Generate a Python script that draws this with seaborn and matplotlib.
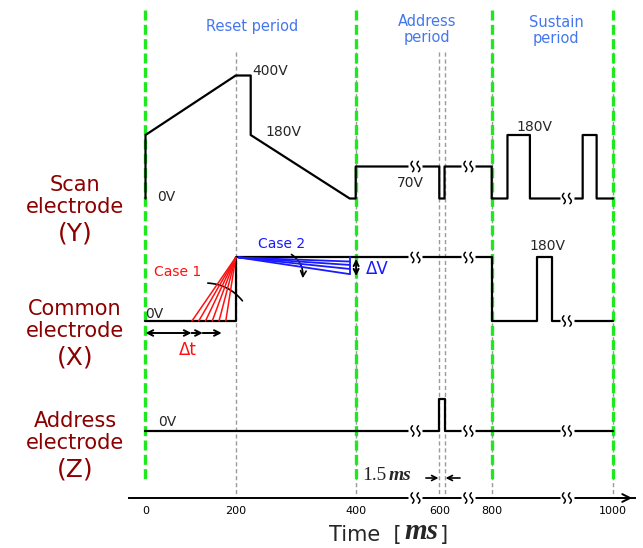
import numpy as np
import matplotlib
matplotlib.use("Agg")
import matplotlib.pyplot as plt
import seaborn as sns

# ---------------- data ----------------
tick_ms = [0, 200, 400, 600, 800, 1000]
tick_labels = ["0", "200", "400", "600", "800", "1000"]

scan_t = [0, 0, 200, 225, 225, 390, 400, 400, 600, 600, 620, 620, 800, 800,
          826, 826, 863, 863, 950, 950, 973, 973, 1000]
scan_v = [0, 180, 400, 400, 180, 0, 0, 70, 70, 0, 0, 70, 70, 0,
          0, 180, 180, 0, 0, 180, 180, 0, 0]
common_t = [0, 200, 200, 800, 800, 875, 875, 899, 899, 1000]
common_v = [0, 0, 180, 180, 0, 0, 180, 180, 0, 0]
addr_t = [0, 600, 600, 620, 620, 1000]
addr_v = [0, 0, 70, 70, 0, 0]

case1_start_ms = [103, 118, 133, 148, 163, 178]
case1_end_ms = 200
case1_v = 180
case2_start_ms = 205
case2_end_ms = 390
case2_end_v = [166, 154, 140, 122]

period_bounds_ms = [0, 400, 800, 1000]
marker_ms = [200, 400, 600, 620, 800, 1000]
breaks_scan_ms = [543, 711, 924]
breaks_common_ms = [543, 711, 924]
breaks_addr_ms = [543, 711, 924]
breaks_axis_ms = [543, 711, 924]
delta_t_marks_ms = [0, 102, 127, 169]

electrode_names = ["Scan", "Common", "Address"]
electrode_codes = ["(Y)", "(X)", "(Z)"]
period_labels = ["Reset period", "Address\nperiod", "Sustain\nperiod"]

# ---------------- schematic layout ----------------
# broken (schematic) time axis: time -> figure pixel
T_anchor = np.array([-2000, 0, 200, 400, 600, 800, 1000, 3000], float)
P_anchor = np.array([-756.5, 145.5, 235.7, 355.7, 439.3, 491.7, 613, 1826], float)
def fwd(t):
    return np.interp(t, T_anchor, P_anchor)
def inv(p):
    return np.interp(p, P_anchor, T_anchor)

# schematic voltage -> drawn height (px)
V_knots = [0, 70, 180, 400]
H_knots = [0, 32, 63.5, 123]
base_scan, base_common, base_addr = 198.5, 321, 431
def yv(base, v):
    return base - np.interp(v, V_knots, H_knots)

sns.set_style("white")
plt.rcParams['font.family'] = ['DejaVu Sans']

fig = plt.figure(figsize=(6.43, 5.48), dpi=100)
ax = fig.add_axes([129 / 643, 50 / 548, 506 / 643, 498 / 548])
ax.set_xscale('function', functions=(fwd, inv))

# gray dotted markers
for t in marker_ms:
    ax.plot([t, t], [52, 498], color='#9a9a9a', lw=1.0, dashes=(3, 2), zorder=1)
# green period boundaries
for t in period_bounds_ms:
    ax.plot([t, t], [10, 480], color='#1ee81e', lw=2.4, dashes=(3.0, 1.3), zorder=2)

# waveforms
sns.lineplot(x=np.array(scan_t, float), y=yv(base_scan, scan_v), sort=False,
             estimator=None, color='black', lw=1.6, ax=ax, zorder=3)
sns.lineplot(x=np.array(common_t, float), y=yv(base_common, common_v), sort=False,
             estimator=None, color='black', lw=1.6, ax=ax, zorder=3)
sns.lineplot(x=np.array(addr_t, float), y=yv(base_addr, addr_v), sort=False,
             estimator=None, color='black', lw=1.6, ax=ax, zorder=3)

# Case 1 (red fan)
for t0 in case1_start_ms:
    ax.plot([t0, case1_end_ms], [yv(base_common, 0), yv(base_common, case1_v)],
            color='#ff1010', lw=1.1, zorder=4)
# Case 2 (blue fan)
for v in case2_end_v:
    ax.plot([case2_start_ms, case2_end_ms], [yv(base_common, 180), yv(base_common, v)],
            color='#1a1aff', lw=1.3, zorder=4)
ax.plot([case2_end_ms, case2_end_ms], [yv(base_common, 180), yv(base_common, min(case2_end_v))],
        color='#1a1aff', lw=1.3, zorder=4)

# break symbols
def draw_break(t, y):
    xc = float(fwd(t))
    ax.plot(inv(np.array([xc - 7, xc + 7])), [y, y], color='white', lw=3.5,
            zorder=7, solid_capstyle='butt', clip_on=False)
    s = np.linspace(-1, 1, 40)
    for dx in (-3.0, 3.0):
        xs = xc + dx + 1.4 * np.sin(np.pi * s)
        ys = y + 5.2 * s
        ax.plot(inv(xs), ys, color='black', lw=1.1, zorder=8, clip_on=False)

for t in breaks_scan_ms:
    yy = yv(base_scan, 70) if t < 800 else yv(base_scan, 0)
    draw_break(t, yy)
for t in breaks_common_ms:
    yy = yv(base_common, 180) if t < 800 else yv(base_common, 0)
    draw_break(t, yy)
for t in breaks_addr_ms:
    draw_break(t, yv(base_addr, 0))
for t in breaks_axis_ms:
    draw_break(t, 498)

# axis styling
ax.set_xlim(inv(129), inv(635))
ax.set_ylim(498, 0)
for side in ['left', 'top', 'right']:
    ax.spines[side].set_visible(False)
ax.spines['bottom'].set_linewidth(1.4)
ax.spines['bottom'].set_color('black')
ax.set_yticks([])
ax.set_xticks(tick_ms)
ax.set_xticklabels(tick_labels, fontsize=8)
ax.tick_params(axis='x', direction='inout', length=6, width=1.1, pad=3, colors='black')
ax.set_xlabel('')
ax.set_ylabel('')
ax.annotate('', xy=(1.0, 0), xycoords='axes fraction', xytext=(0.96, 0),
            arrowprops=dict(arrowstyle='->', color='black', lw=1.4, mutation_scale=14))

# left electrode labels
label_y = [185, 309, 421]
for name, code, y0 in zip(electrode_names, electrode_codes, label_y):
    ax.text(-156, y0, name, ha='center', va='center', fontsize=15, color='#8B0000')
    ax.text(-156, y0 + 22, "electrode", ha='center', va='center', fontsize=15, color='#8B0000')
    ax.text(-156, y0 + 49, code, ha='center', va='center', fontsize=18, color='#8B0000')

# period labels
pcol = '#4477ee'
ax.text(227, 26, period_labels[0], ha='center', va='center', fontsize=10.5, color=pcol)
ax.text(570, 29.5, period_labels[1], ha='center', va='center', fontsize=10.5, color=pcol,
        linespacing=1.1)
ax.text(906, 30.5, period_labels[2], ha='center', va='center', fontsize=10.5, color=pcol,
        linespacing=1.1)

# voltage labels
ax.text(227, 71, "400V", ha='left', va='center', fontsize=10)
ax.text(250, 132, "180V", ha='left', va='center', fontsize=10)
ax.text(25, 197, "0V", ha='left', va='center', fontsize=10)
ax.text(530, 183, "70V", ha='center', va='center', fontsize=10)
ax.text(871, 127, "180V", ha='center', va='center', fontsize=10)
ax.text(0, 314, "0V", ha='left', va='center', fontsize=10)
ax.text(892, 246, "180V", ha='center', va='center', fontsize=10)
ax.text(28, 422, "0V", ha='left', va='center', fontsize=10)

# case labels and arrows
ax.text(72, 272.5, "Case 1", ha='center', va='center', fontsize=10, color='#ff1010')
ax.text(277, 244, "Case 2", ha='center', va='center', fontsize=10, color='#1a1aff')
ax.annotate('', xy=(214, 303), xytext=(132, 283),
            arrowprops=dict(arrowstyle='-', color='black', lw=1.2,
                            connectionstyle='arc3,rad=-0.25'))
ax.annotate('', xy=(311, 281), xytext=(289, 253),
            arrowprops=dict(arrowstyle='->', color='black', lw=1.2,
                            connectionstyle='arc3,rad=-0.35', mutation_scale=10))
# delta V
ax.annotate('', xy=(401, 259), xytext=(401, 276),
            arrowprops=dict(arrowstyle='<->', color='black', lw=1.4, mutation_scale=9,
                            shrinkA=0, shrinkB=0))
ax.text(451, 269, "\u0394V", ha='center', va='center', fontsize=12, color='#1a1aff')
# delta t
ax.annotate('', xy=(delta_t_marks_ms[1], 333), xytext=(delta_t_marks_ms[0], 333),
            arrowprops=dict(arrowstyle='<->', color='black', lw=1.4, mutation_scale=10,
                            shrinkA=0, shrinkB=0))
for a, b in zip(delta_t_marks_ms[1:-1], delta_t_marks_ms[2:]):
    ax.annotate('', xy=(b, 333), xytext=(a, 333),
                arrowprops=dict(arrowstyle='->', color='black', lw=1.4, mutation_scale=10,
                                shrinkA=0, shrinkB=0))
ax.text(94, 350, "\u0394t", ha='center', va='center', fontsize=12, color='#ff1010')

# 1.5 ms annotation
t15 = ax.text(415, 476, "1.5", ha='left', va='center', fontsize=14,
              family='Liberation Serif')
ax.annotate("ms", xy=(1, 0), xycoords=t15, xytext=(1.5, 0), textcoords='offset points',
            ha='left', va='bottom', fontsize=14, family='Liberation Serif',
            fontweight='bold', fontstyle='italic')
ax.annotate('', xy=(598, 478), xytext=(568, 478),
            arrowprops=dict(arrowstyle='->', color='black', lw=1.2, mutation_scale=9,
                            shrinkA=0, shrinkB=0))
ax.annotate('', xy=(624, 478), xytext=(679, 478),
            arrowprops=dict(arrowstyle='->', color='black', lw=1.2, mutation_scale=9,
                            shrinkA=0, shrinkB=0))

# axis title "Time [ms]"
tl = fig.text(329 / 643, 1 - 535 / 548, "Time  [", ha='left', va='center', fontsize=15)
ann = plt.annotate("ms", xy=(1, 0), xycoords=tl, xytext=(2, 0), textcoords='offset points',
                   ha='left', va='bottom', fontsize=21, family='Liberation Serif',
                   fontweight='bold', fontstyle='italic', annotation_clip=False)
plt.annotate("]", xy=(1, 0), xycoords=ann, xytext=(1, 0), textcoords='offset points',
             ha='left', va='bottom', fontsize=15, annotation_clip=False)

fig.savefig("out.png", dpi=100)
